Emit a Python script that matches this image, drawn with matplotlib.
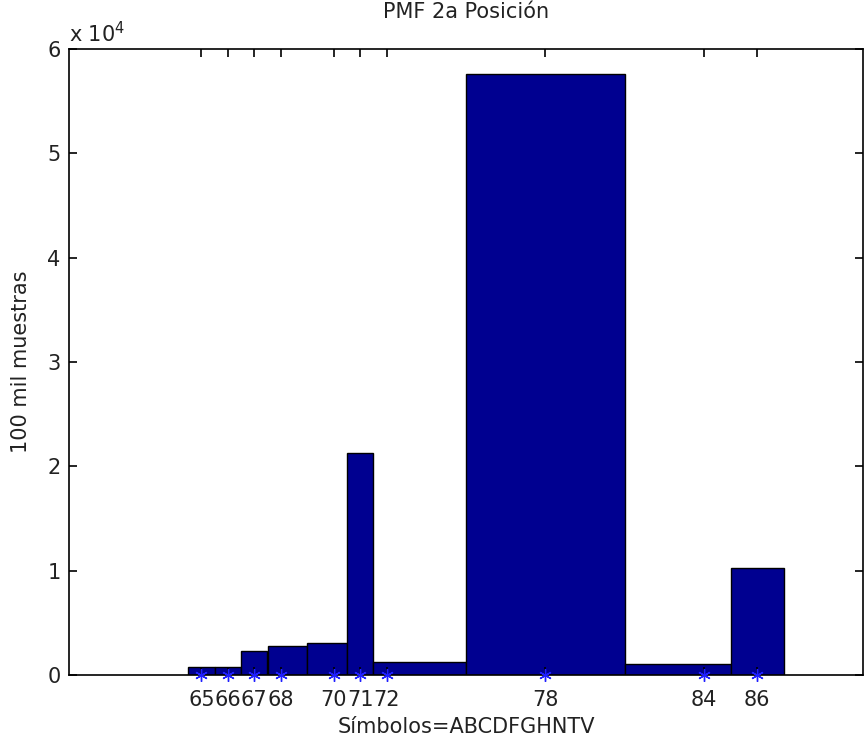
import numpy as np
import matplotlib.pyplot as plt

plt.rcParams['font.family'] = ['DejaVu Sans']

simbolos = [65, 66, 67, 68, 70, 71, 72, 78, 84, 86]
conteos = [740, 740, 2270, 2780, 3100, 21300, 1200, 57600, 1050, 10300]
etiquetas = ['65', '66', '67', '68', '70', '71', '72', '78', '84', '86']

x = np.array(simbolos, dtype=float)
y = np.array(conteos, dtype=float)

# bordes estilo 'hist': puntos medios entre simbolos
mid = (x[1:] + x[:-1]) / 2
left = np.concatenate([[x[0] - (x[1] - x[0]) / 2], mid])
right = np.concatenate([mid, [x[-1] + (x[-1] - x[-2]) / 2]])

fig = plt.figure(figsize=(8.66, 7.44), dpi=100)
ax = fig.add_axes([69 / 866, 69 / 744, 794 / 866, 626 / 744])

ax.bar(left, y, width=right - left, align='edge', color='#000090',
       edgecolor='black', linewidth=1.0)
ax.plot(x, np.zeros_like(x), linestyle='none', marker=(6, 2, 0),
        color='#2020ff', markersize=9, markeredgewidth=1.0,
        clip_on=False, zorder=5)

ax.set_xlim(60, 90)
ax.set_ylim(0, 60000)
ax.set_xticks(x)
ax.set_xticklabels(etiquetas)
ax.set_yticks(np.arange(0, 60001, 10000))
ax.set_yticklabels([str(i) for i in range(7)])
ax.tick_params(direction='in', top=True, right=True, length=6,
               labelsize=15, width=1.2, pad=6, labelcolor='#222222')
ax.tick_params(axis='x', pad=11)
for s in ax.spines.values():
    s.set_linewidth(1.2)

ax.text(0.0, 1.005, r'x 10$^4$', transform=ax.transAxes, fontsize=15,
        ha='left', va='bottom', color='#222222')
ax.set_title('PMF 2a Posición', fontsize=15, pad=22, color='#222222')
ax.set_xlabel('Símbolos=ABCDFGHNTV', fontsize=15, labelpad=5, color='#222222')
ax.set_ylabel('100 mil muestras', fontsize=15, labelpad=12, color='#222222')

fig.savefig('out.png', dpi=100)
